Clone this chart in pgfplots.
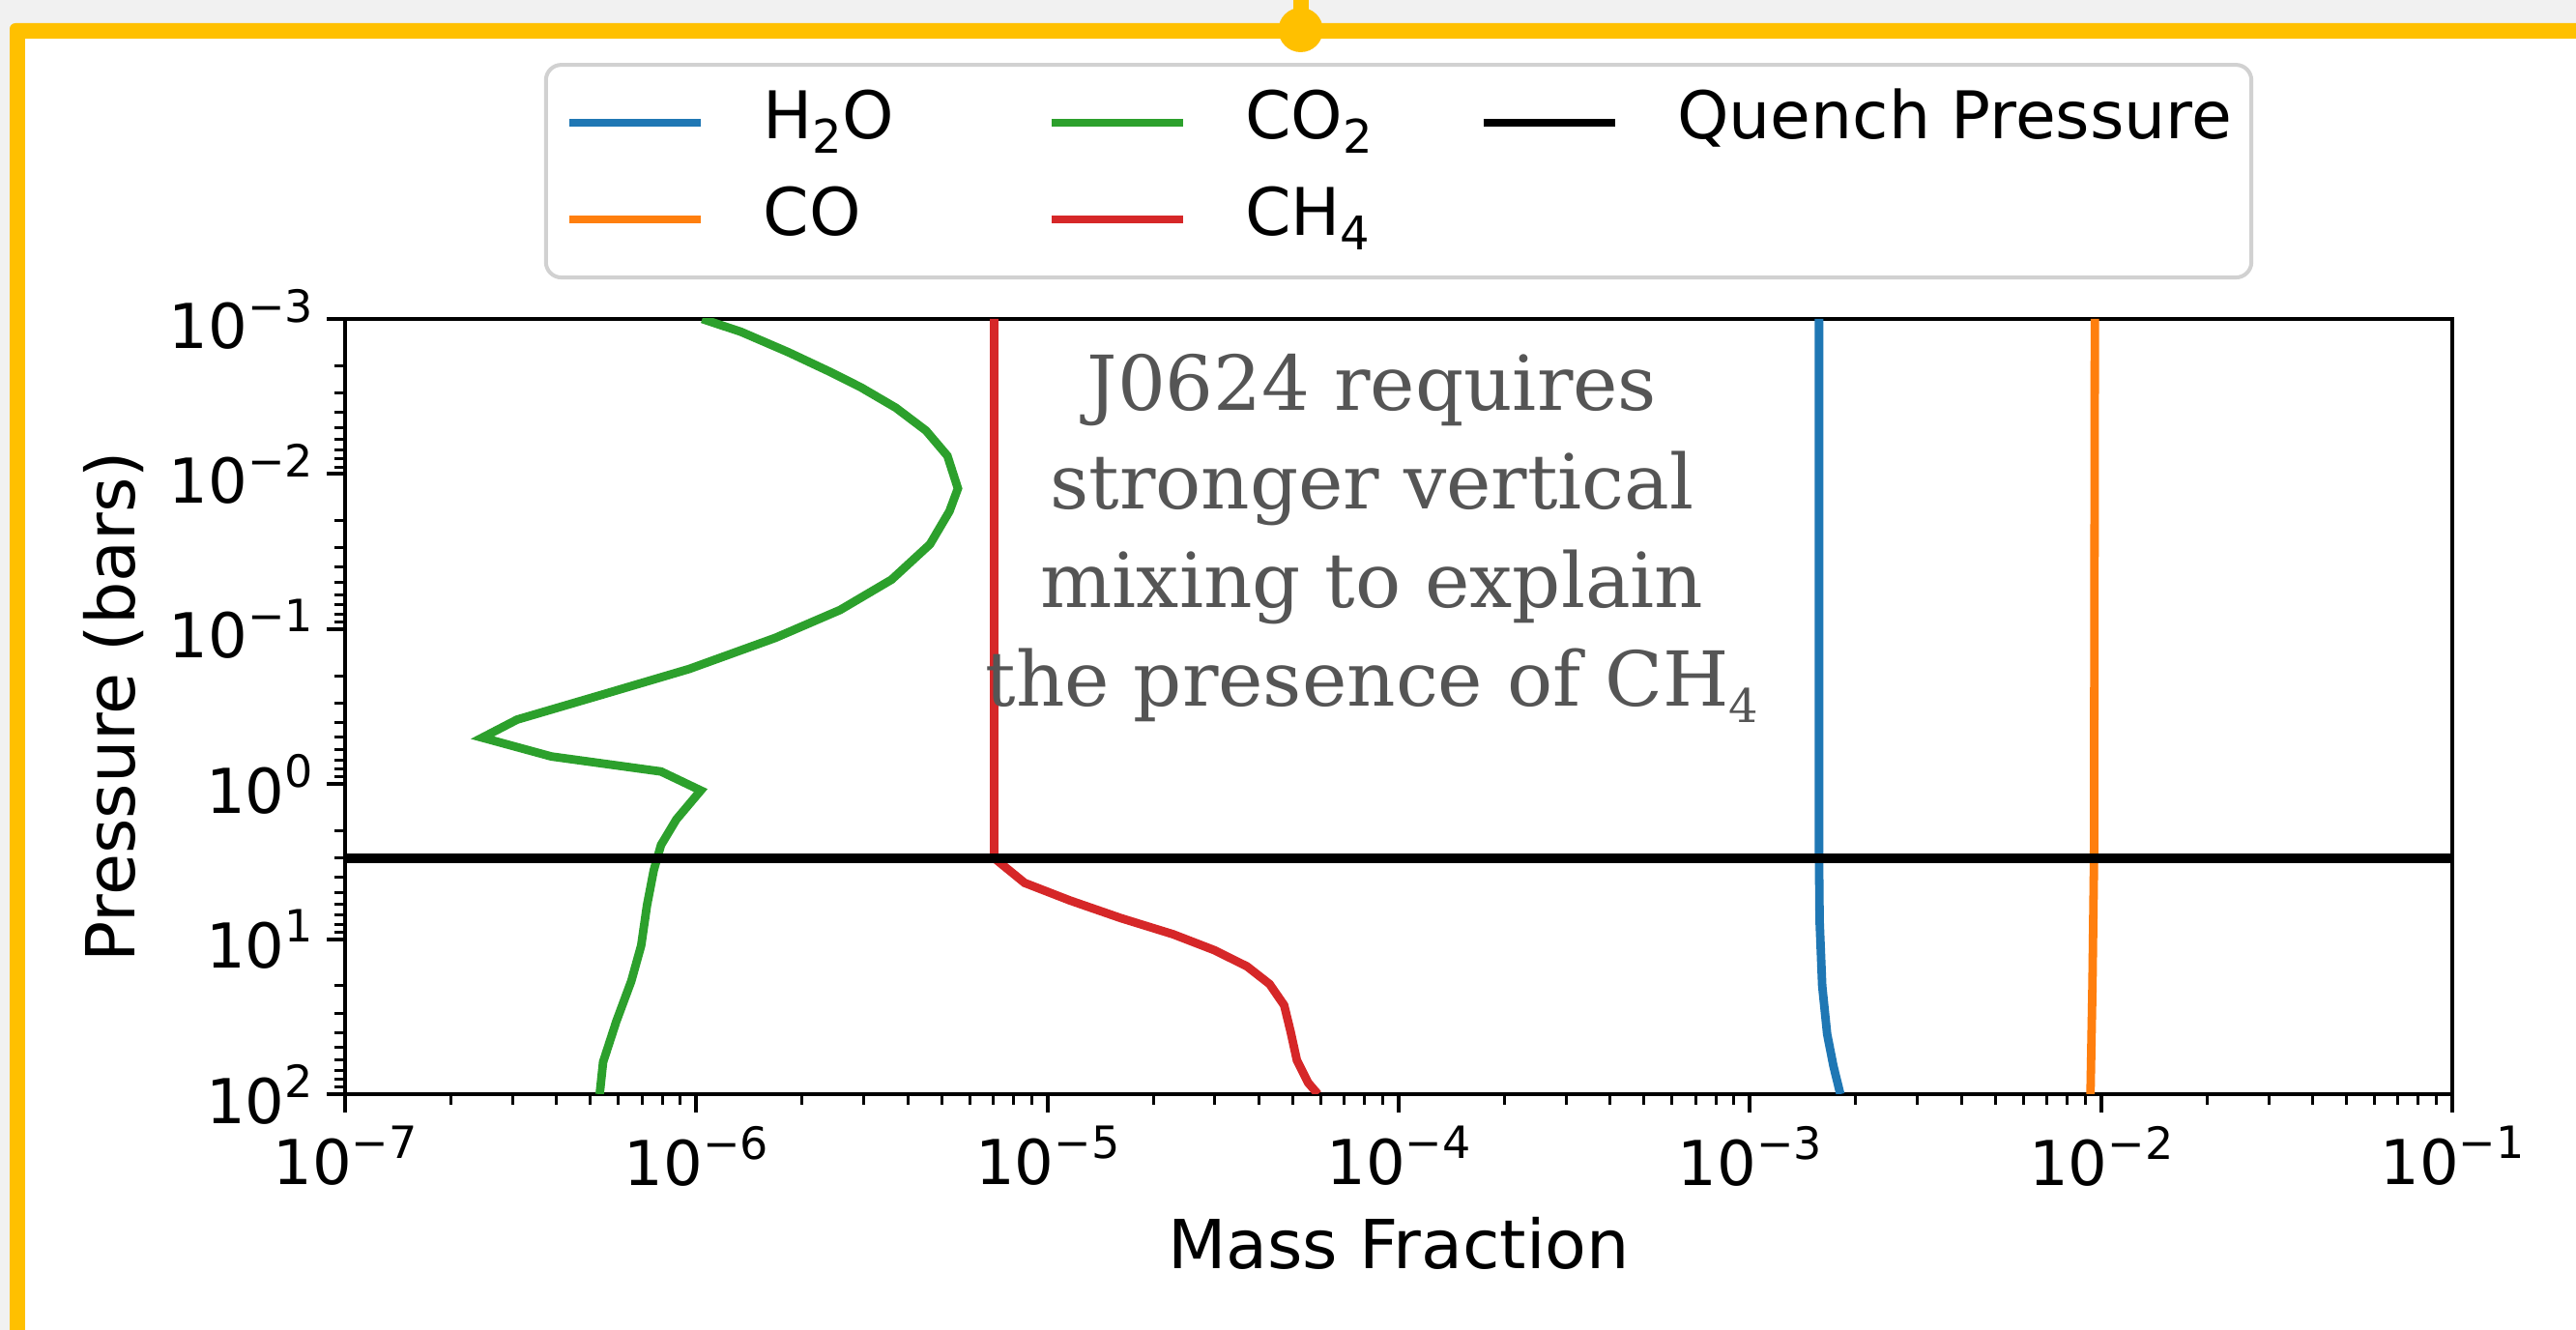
\documentclass[border=0pt]{standalone}
\usepackage{pgfplots}
\pgfplotsset{compat=1.18}
\usepackage{fontspec}
\setmainfont{DejaVu Sans}
\newfontfamily\annfont{DejaVu Serif}

\definecolor{tabblue}{HTML}{1F77B4}
\definecolor{taborange}{HTML}{FF7F0E}
\definecolor{tabgreen}{HTML}{2CA02C}
\definecolor{tabred}{HTML}{D62728}
\definecolor{frameyellow}{HTML}{FFC000}
\definecolor{bggray}{HTML}{F1F1F1}
\definecolor{anngray}{HTML}{555555}

% superscript / subscript at matplotlib mathtext size
\newcommand\sups[1]{\raisebox{0.42em}{\fontsize{11.5}{12}\selectfont #1}}
\newcommand\subs[1]{\raisebox{-0.22em}{\fontsize{12}{12}\selectfont #1}}

\begin{document}
\begin{tikzpicture}
\useasboundingbox (0pt,0pt) rectangle (666.25pt,344pt);
\fill[bggray] (0pt,0pt) rectangle (666.25pt,344pt);
\fill[frameyellow] (2.5pt,0pt) [rounded corners=1.5pt] -- (2.5pt,338pt) [sharp corners] -- (666.25pt,338pt) -- (666.25pt,0pt) -- cycle;
\fill[white] (6.5pt,0pt) rectangle (666.25pt,334pt);
\fill[frameyellow] (334.4pt,336pt) rectangle (338.5pt,344pt);
\fill[frameyellow] (336.4pt,336.25pt) circle (5.75pt);

\begin{axis}[
  at={(89.25pt,61pt)}, anchor=south west,
  scale only axis, width=545pt, height=200.5pt,
  xmode=log, ymode=log, y dir=reverse,
  xmin=1e-7, xmax=1e-1, ymin=1e-3, ymax=1e2,
  axis line style={line width=1pt},
  tick align=outside, xtick pos=left, ytick pos=left,
  major tick length=4.75pt, minor tick length=2.75pt,
  major tick style={black, line width=1pt},
  minor tick style={black, line width=0.75pt},
  xtick={1e-7,1e-6,1e-5,1e-4,1e-3,1e-2,1e-1},
  xticklabels={10\sups{−7},10\sups{−6},10\sups{−5},10\sups{−4},10\sups{−3},10\sups{−2},10\sups{−1}},
  minor xtick={2e-7,3e-7,4e-7,5e-7,6e-7,7e-7,8e-7,9e-7,
    2e-6,3e-6,4e-6,5e-6,6e-6,7e-6,8e-6,9e-6,
    2e-5,3e-5,4e-5,5e-5,6e-5,7e-5,8e-5,9e-5,
    2e-4,3e-4,4e-4,5e-4,6e-4,7e-4,8e-4,9e-4,
    2e-3,3e-3,4e-3,5e-3,6e-3,7e-3,8e-3,9e-3,
    2e-2,3e-2,4e-2,5e-2,6e-2,7e-2,8e-2,9e-2},
  ytick={1e-3,1e-2,1e-1,1,10,100},
  yticklabels={10\sups{−3},10\sups{−2},10\sups{−1},10\sups{0},10\sups{1},10\sups{2}},
  minor ytick={2e-3,3e-3,4e-3,5e-3,6e-3,7e-3,8e-3,9e-3,
    2e-2,3e-2,4e-2,5e-2,6e-2,7e-2,8e-2,9e-2,
    0.2,0.3,0.4,0.5,0.6,0.7,0.8,0.9,
    2,3,4,5,6,7,8,9,
    20,30,40,50,60,70,80,90},
  ticklabel style={font=\fontsize{16}{19}\selectfont},
  xlabel={Mass Fraction},
  ylabel={Pressure (bars)},
  label style={font=\fontsize{17.5}{21}\selectfont},
  xlabel style={at={(axis description cs:0.5,-0.193)}, anchor=center},
  ylabel style={at={(axis description cs:-0.110,0.5)}, anchor=center},
  legend columns=3,
  legend cell align=left,
  legend image code/.code={\draw[#1] (0pt,0pt) -- (34pt,0pt); \path (49pt,0pt);},
  legend style={at={(0.5,1.051)}, anchor=south, draw=black!18, line width=1pt,
    rounded corners=4pt, font=\fontsize{17}{20}\selectfont,
    inner xsep=5pt, inner ysep=6.5pt,
    nodes={inner sep=0pt, text height=12.5pt, text depth=4.5pt},
    /tikz/row sep=8pt, /tikz/column sep=0pt},
]
% H2O
\addplot[tabblue, line width=2.2pt, forget plot] coordinates {
  (1.574e-3,1e-3) (1.574e-3,3) (1.58e-3,7.66) (1.607e-3,20)
  (1.66e-3,41) (1.73e-3,66) (1.81e-3,100)};
% CO
\addplot[taborange, line width=2.2pt, forget plot] coordinates {
  (9.6e-3,1e-3) (9.55e-3,3) (9.45e-3,20) (9.33e-3,100)};
% CO2
\addplot[tabgreen, line width=2.2pt, forget plot] coordinates {
  (1.04e-6,1e-3) (1.34e-6,1.21e-3) (1.83e-6,1.64e-3) (2.42e-6,2.21e-3)
  (2.95e-6,2.77e-3) (3.70e-6,3.74e-3) (4.51e-6,5.25e-3) (5.19e-6,7.64e-3)
  (5.56e-6,1.24e-2) (5.26e-6,1.74e-2) (4.63e-6,2.84e-2) (3.60e-6,4.80e-2)
  (2.57e-6,7.53e-2) (1.68e-6,0.114) (9.55e-7,0.181) (5.43e-7,0.264)
  (3.09e-7,0.384) (2.46e-7,0.502) (3.87e-7,0.664) (7.94e-7,0.830)
  (1.03e-6,1.10) (8.78e-7,1.69) (7.94e-7,2.47) (7.57e-7,3.59)
  (7.24e-7,6.07) (6.97e-7,11.0) (6.53e-7,18.7) (5.92e-7,34.0)
  (5.43e-7,62.1) (5.31e-7,100)};
% CH4
\addplot[tabred, line width=2.2pt, forget plot] coordinates {
  (7.05e-6,1e-3) (7.05e-6,3) (8.61e-6,4.34) (1.16e-5,5.64) (1.62e-5,7.33)
  (2.28e-5,9.31) (2.99e-5,11.8) (3.70e-5,15.0) (4.29e-5,19.5)
  (4.72e-5,26.7) (4.92e-5,39.2) (5.13e-5,60.3) (5.52e-5,84.2) (5.89e-5,100)};
% quench pressure
\addplot[black, line width=2.6pt, forget plot] coordinates {(1e-7,3) (1e-1,3)};

\addlegendimage{tabblue, line width=2.2pt}
\addlegendentry{\makebox[73.5pt][l]{H\subs{2}O}}
\addlegendimage{tabgreen, line width=2.2pt}
\addlegendentry{\makebox[60.5pt][l]{CO\subs{2}}}
\addlegendimage{black, line width=2.2pt}
\addlegendentry{Quench Pressure}
\addlegendimage{taborange, line width=2.2pt}
\addlegendentry{CO}
\addlegendimage{tabred, line width=2.2pt}
\addlegendentry{CH\subs{4}}

\node[font=\annfont\fontsize{19.6}{25.5}\selectfont, text=anngray, align=center]
  at (axis cs:8.4e-5,0.026)
  {J0624 requires\\stronger vertical\\mixing to explain\\the presence of CH\subs{4}};
\end{axis}
\end{tikzpicture}
\end{document}
